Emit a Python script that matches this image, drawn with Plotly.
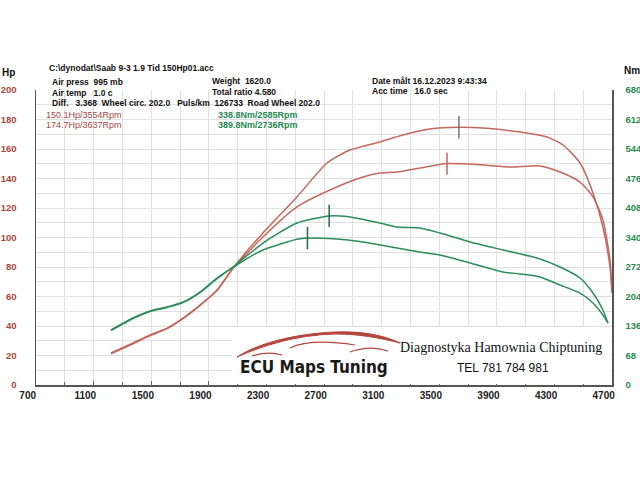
import plotly.graph_objects as go

# ---------------- data ----------------
rpm_p2 = [1221, 1374, 1492, 1610, 1721, 1839, 1957, 2068, 2276, 2512, 2721, 2880, 3089, 3248, 3436, 3637,
          3832, 4061, 4248, 4360, 4478, 4568, 4637, 4686, 4700]
hp_p2 = [21.7, 28.5, 33.9, 38.6, 45.4, 54.2, 64.4, 79.3, 103.1, 127.5, 150.5, 159.3, 164.8, 169.5, 173.6, 174.7,
         174.0, 171.5, 168.1, 162.7, 150.5, 130.2, 107.1, 80.0, 62.4]

rpm_p1 = [1221, 1374, 1492, 1610, 1721, 1839, 1957, 2068, 2276, 2512, 2741, 2971, 3089, 3207, 3367, 3554,
          3714, 3991, 4200, 4339, 4478, 4568, 4637, 4686, 4700]
hp_p1 = [21.2, 28.0, 33.5, 38.2, 45.0, 54.0, 64.0, 79.0, 100.3, 120.7, 132.2, 141.0, 143.7, 144.4, 147.1, 150.1,
         149.8, 147.8, 148.5, 144.4, 137.6, 127.5, 111.9, 84.8, 62.4]

rpm_t2 = [1221, 1374, 1492, 1610, 1721, 1839, 1957, 2068, 2276, 2512, 2736, 2860, 3089, 3207, 3367, 3505,
          3714, 3943, 4179, 4339, 4478, 4568, 4637, 4672]
nm_t2 = [126.8, 154.4, 170.6, 179.8, 191.3, 214.4, 246.6, 272.0, 327.3, 373.4, 389.8, 388.5, 373.4, 364.2, 361.9,
         350.4, 329.6, 311.2, 292.7, 272.0, 246.6, 212.0, 172.9, 142.9]

rpm_t1 = [1221, 1374, 1492, 1610, 1721, 1839, 1957, 2068, 2276, 2512, 2585, 2741, 2971, 3207, 3367, 3505,
          3714, 3943, 4061, 4200, 4339, 4478, 4568, 4637, 4672]
nm_t1 = [125.5, 153.0, 169.5, 178.8, 190.0, 213.0, 245.0, 271.0, 311.2, 336.0, 338.8, 337.5, 329.6, 315.8, 306.6,
         299.7, 281.2, 260.5, 255.9, 249.0, 230.5, 212.0, 189.0, 161.4, 142.9]

peak_rpm_hp = [3637, 3554]
peak_hp = [174.7, 150.1]
peak_rpm_nm = [2736, 2585]
peak_nm = [389.8, 338.8]

x_ticks = [700, 1100, 1500, 1900, 2300, 2700, 3100, 3500, 3900, 4300, 4700]
hp_ticks = [0, 20, 40, 60, 80, 100, 120, 140, 160, 180, 200]
nm_ticks = [0, 68, 136, 204, 272, 340, 408, 476, 544, 612, 680]

RED = "rgb(196,104,92)"
GREEN = "rgb(44,140,92)"
RED_T = "rgb(168,72,62)"
GREEN_T = "rgb(40,138,82)"

# ---------------- layout geometry ----------------
W, H = 640, 480
L, R, T, B = 36, 28, 90, 95
PW, PH = W - L - R, H - T - B


def px(x):
    return (x - L) / PW


def py(y):
    return (H - B - y) / PH


fig = go.Figure()

line_shape = dict(shape="spline", smoothing=0.6)
fig.add_trace(go.Scatter(x=rpm_p2, y=hp_p2, mode="lines", line=dict(color=RED, width=1.5, **line_shape),
                         hoverinfo="skip", showlegend=False))
fig.add_trace(go.Scatter(x=rpm_p1, y=hp_p1, mode="lines", line=dict(color=RED, width=1.5, **line_shape),
                         hoverinfo="skip", showlegend=False))
fig.add_trace(go.Scatter(x=rpm_t2, y=nm_t2, mode="lines", line=dict(color=GREEN, width=1.5, **line_shape),
                         yaxis="y2", hoverinfo="skip", showlegend=False))
fig.add_trace(go.Scatter(x=rpm_t1, y=nm_t1, mode="lines", line=dict(color=GREEN, width=1.5, **line_shape),
                         yaxis="y2", hoverinfo="skip", showlegend=False))

# peak markers
fig.add_trace(go.Scatter(x=peak_rpm_hp, y=peak_hp, mode="markers",
                         marker=dict(symbol="line-ns", size=16, line=dict(color=["#777777", RED], width=1.5)),
                         hoverinfo="skip", showlegend=False))
fig.add_trace(go.Scatter(x=peak_rpm_nm, y=peak_nm, mode="markers", yaxis="y2",
                         marker=dict(symbol="line-ns", size=16, line=dict(color="rgb(30,110,70)", width=1.5)),
                         hoverinfo="skip", showlegend=False))

axfont = dict(family="Liberation Sans, Arial", size=10, weight="bold")
pad_txt = "&nbsp;" * 6

fig.update_layout(
    width=W, height=H,
    margin=dict(l=L, r=R, t=T, b=B, pad=0, autoexpand=False),
    paper_bgcolor="white", plot_bgcolor="white",
    xaxis=dict(range=[700, 4700], tickvals=x_ticks, ticktext=[f"{v}{pad_txt}" for v in x_ticks],
               showgrid=True, gridcolor="#e0e0e0", gridwidth=1, automargin=False,
               minor=dict(dtick=200, tick0=700, showgrid=True, gridcolor="#e0e0e0", ticks="inside", ticklen=3,
                          tickcolor="#666"),
               ticks="inside", ticklen=4, tickcolor="#666",
               showline=True, linecolor="#555", linewidth=1.5, zeroline=False,
               tickfont=dict(color="#222", **axfont), ticklabeloverflow="allow", fixedrange=True),
    yaxis=dict(range=[0, 200], tickvals=hp_ticks, ticktext=[str(v) for v in hp_ticks], automargin=False,
               showgrid=True, gridcolor="#e0e0e0", dtick=20,
               minor=dict(dtick=10, showgrid=True, gridcolor="#e0e0e0"),
               showline=True, linecolor="#555", linewidth=1.5, zeroline=False, ticks="",
               tickfont=dict(color=RED_T, family="Liberation Sans, Arial", size=9.5, weight="bold"),
               ticklabelstandoff=16, ticklabeloverflow="allow", fixedrange=True),
    yaxis2=dict(range=[0, 680], tickvals=nm_ticks, ticktext=[str(v) for v in nm_ticks], overlaying="y",
                side="right", showgrid=False, showline=True, linecolor="#555", linewidth=1.5, zeroline=False,
                automargin=False, ticklabeloverflow="allow",
                ticks="", tickfont=dict(color=GREEN_T, family="Liberation Sans, Arial", size=9.5, weight="bold"),
                ticklabelstandoff=10, fixedrange=True),
)

# white logo box
fig.add_shape(type="rect", xref="paper", yref="paper", x0=px(232), x1=px(611), y0=py(384), y1=py(327),
              fillcolor="white", line=dict(width=0), layer="above")


def P(x, y):
    return f"{px(x):.4f},{py(y):.4f}"


swoosh = (f"M{P(237,357)} C{P(255,345)} {P(290,334)} {P(335,332)} C{P(365,331)} {P(385,336)} {P(400,343)} "
          f"C{P(380,338)} {P(360,334)} {P(335,334)} C{P(295,335)} {P(262,346)} {P(237,357)} Z")
fig.add_shape(type="path", xref="paper", yref="paper", path=swoosh, fillcolor="rgb(180,70,60)",
              line=dict(color="rgb(180,70,60)", width=1), layer="above")
fig.add_shape(type="path", xref="paper", yref="paper",
              path=f"M{P(290,348)} Q{P(310,338)} {P(355,345)}",
              line=dict(color="rgb(180,70,60)", width=1.2), layer="above")
fig.add_shape(type="path", xref="paper", yref="paper",
              path=f"M{P(350,352)} Q{P(370,345)} {P(388,351)}",
              line=dict(color="rgb(180,70,60)", width=1.2), layer="above")
fig.add_shape(type="path", xref="paper", yref="paper",
              path=f"M{P(252,356)} Q{P(268,351)} {P(282,355)}",
              line=dict(color="rgb(180,70,60)", width=1.2), layer="above")

hdr = dict(family="Liberation Sans, Arial", size=8.5, color="#111", weight="bold")


def txt(x, y, s, font, anchor="left"):
    fig.add_annotation(x=px(x), y=py(y), xref="paper", yref="paper", text=s, showarrow=False,
                       xanchor=anchor, yanchor="middle", font=font)


txt(47, 68, "C:\\dynodat\\Saab 9-3 1.9 Tid 150Hp01.acc", hdr)
txt(50, 82, "Air press&nbsp;&nbsp;995 mb", hdr)
txt(50, 93, "Air temp&nbsp;&nbsp;&nbsp;1.0 c", hdr)
txt(50, 103, "Diff.&nbsp;&nbsp;&nbsp;3.368&nbsp;&nbsp;Wheel circ. 202.0&nbsp;&nbsp;&nbsp;Puls/km&nbsp;&nbsp;126733&nbsp;&nbsp;Road Wheel 202.0", hdr)
txt(210, 81, "Weight&nbsp;&nbsp;1620.0", hdr)
txt(210, 92, "Total ratio 4.580", hdr)
txt(370, 81, "Date målt 16.12.2023 9:43:34", hdr)
txt(370, 91, "Acc time&nbsp;&nbsp;&nbsp;16.0 sec", hdr)

red_f = dict(family="Liberation Sans, Arial", size=9, color=RED_T)
green_f = dict(family="Liberation Sans, Arial", size=9, color=GREEN_T, weight="bold")
txt(44, 115, f"{peak_hp[1]}Hp/{peak_rpm_hp[1]}Rpm", red_f)
txt(44, 125, f"{peak_hp[0]}Hp/{peak_rpm_hp[0]}Rpm", red_f)
txt(216, 115, f"{peak_nm[1]}Nm/{peak_rpm_nm[1]}Rpm", green_f)
txt(216, 125, f"{peak_nm[0]}Nm/{peak_rpm_nm[0]}Rpm", green_f)

txt(0, 72, "Hp", dict(family="Liberation Sans, Arial", size=10, color="#111", weight="bold"))
txt(622, 71, "Nm", dict(family="Liberation Sans, Arial", size=10, color="#111", weight="bold"))

txt(238, 367, "ECU Maps Tuning",
    dict(family="DejaVu Sans Condensed, Liberation Sans Narrow, Arial Narrow, Liberation Sans", size=17,
         color="#1a1a1a", weight="bold"))
txt(398, 347, "Diagnostyka Hamownia Chiptuning", dict(family="Liberation Serif, Times New Roman", size=14,
                                                        color="#111"))
txt(455, 368, "TEL 781 784 981", dict(family="Liberation Sans, Arial", size=12, color="#111"))

fig.write_html("out.html", config={"displayModeBar": False, "staticPlot": True},
               post_script="document.body.style.margin='0';")
